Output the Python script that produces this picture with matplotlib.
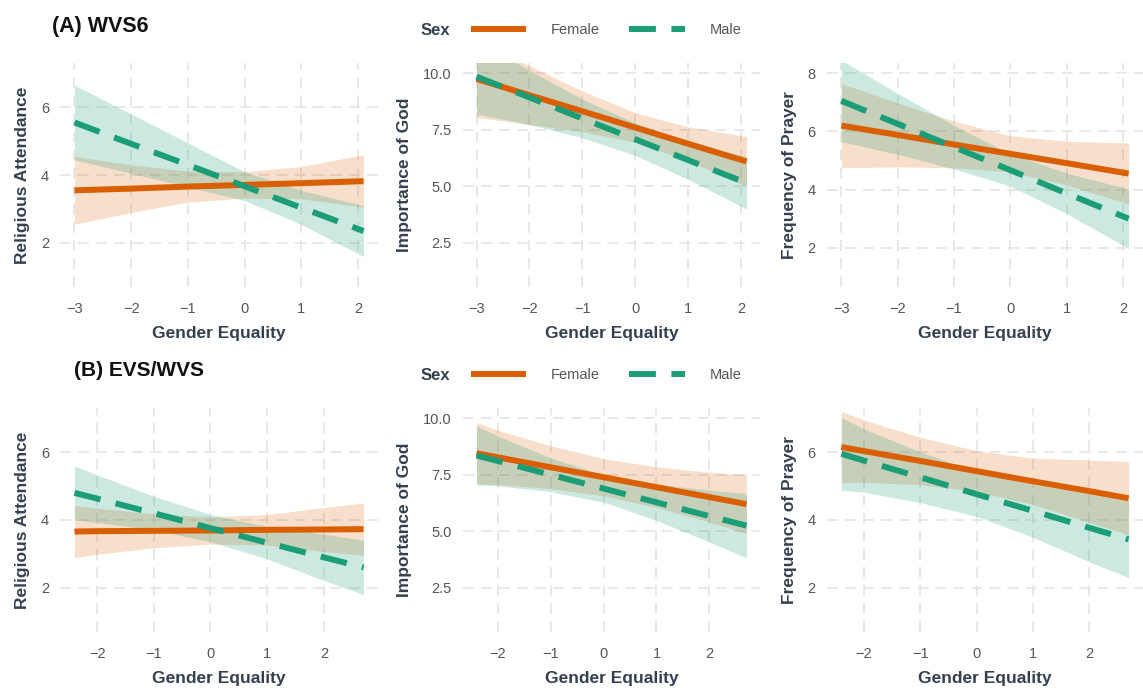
import numpy as np
import matplotlib
matplotlib.use("Agg")
import matplotlib.pyplot as plt
from matplotlib.lines import Line2D

plt.rcParams['font.family'] = ['Liberation Sans', 'DejaVu Sans']

ORANGE = '#D95F02'
GREEN = '#1B9E77'
TITLE_COL = '#34404F'
TICK_COL = '#555555'

# gender equality grid used for fitted lines and CI bands
x_a = [-3.0, -2.0, -1.0, 0.0, 1.0, 2.1]
x_b = [-2.4, -2.0, -1.0, 0.0, 1.0, 2.0, 2.7]

# (A) WVS6 -------------------------------------------------------------
att_a_f = [3.55, 3.60, 3.66, 3.71, 3.76, 3.82]
att_a_f_lo = [2.55, 2.90, 3.20, 3.32, 3.30, 3.05]
att_a_f_hi = [4.55, 4.30, 4.12, 4.10, 4.25, 4.60]
att_a_m = [5.55, 4.92, 4.30, 3.67, 3.04, 2.35]
att_a_m_lo = [4.45, 4.05, 3.65, 3.25, 2.55, 1.60]
att_a_m_hi = [6.65, 5.80, 4.95, 4.10, 3.55, 3.10]

god_a_f = [9.75, 9.03, 8.32, 7.60, 6.88, 6.10]
god_a_f_lo = [8.05, 7.73, 7.42, 6.95, 6.13, 5.00]
god_a_f_hi = [11.45, 10.33, 9.22, 8.25, 7.63, 7.20]
god_a_m = [9.85, 8.93, 8.00, 7.08, 6.16, 5.15]
god_a_m_lo = [8.20, 7.73, 7.15, 6.36, 5.31, 4.00]
god_a_m_hi = [11.50, 10.13, 8.85, 7.80, 7.01, 6.30]

pray_a_f = [6.20, 5.88, 5.55, 5.23, 4.91, 4.55]
pray_a_f_lo = [4.75, 4.78, 4.75, 4.61, 4.16, 3.50]
pray_a_f_hi = [7.65, 6.98, 6.35, 5.85, 5.66, 5.60]
pray_a_m = [7.05, 6.26, 5.46, 4.67, 3.87, 3.00]
pray_a_m_lo = [5.65, 5.21, 4.71, 4.12, 3.17, 1.98]
pray_a_m_hi = [8.45, 7.31, 6.21, 5.22, 4.57, 4.02]

# (B) EVS/WVS ----------------------------------------------------------
att_b_f = [3.66, 3.67, 3.68, 3.69, 3.71, 3.72, 3.73]
att_b_f_lo = [2.89, 2.99, 3.18, 3.29, 3.26, 3.07, 2.96]
att_b_f_hi = [4.43, 4.35, 4.18, 4.09, 4.16, 4.37, 4.50]
att_b_m = [4.80, 4.63, 4.20, 3.76, 3.33, 2.90, 2.60]
att_b_m_lo = [4.00, 3.93, 3.70, 3.36, 2.85, 2.22, 1.80]
att_b_m_hi = [5.60, 5.33, 4.70, 4.16, 3.81, 3.58, 3.40]

god_b_f = [8.45, 8.27, 7.83, 7.39, 6.95, 6.51, 6.20]
god_b_f_lo = [7.10, 7.07, 6.88, 6.57, 6.05, 5.41, 4.90]
god_b_f_hi = [9.80, 9.47, 8.78, 8.21, 7.85, 7.61, 7.50]
god_b_m = [8.35, 8.11, 7.50, 6.89, 6.28, 5.67, 5.25]
god_b_m_lo = [7.05, 7.01, 6.75, 6.29, 5.48, 4.52, 3.83]
god_b_m_hi = [9.65, 9.21, 8.25, 7.49, 7.08, 6.82, 6.67]

pray_b_f = [6.15, 6.03, 5.74, 5.44, 5.14, 4.85, 4.64]
pray_b_f_lo = [5.10, 5.11, 5.04, 4.84, 4.46, 3.93, 3.56]
pray_b_f_hi = [7.20, 6.95, 6.44, 6.04, 5.82, 5.77, 5.72]
pray_b_m = [5.95, 5.75, 5.26, 4.76, 4.27, 3.77, 3.43]
pray_b_m_lo = [4.88, 4.82, 4.51, 4.11, 3.49, 2.77, 2.30]
pray_b_m_hi = [7.02, 6.68, 6.01, 5.41, 5.05, 4.77, 4.56]

fig = plt.figure(figsize=(11.43, 6.9), dpi=100)

lefts = [0.0525, 0.4051, 0.7235]
widths = [0.2782, 0.2598, 0.2765]
bottoms = [0.584, 0.0841]
height = 0.3246

panels = [
    # row, col, x, female, f_lo, f_hi, male, m_lo, m_hi, ylabel, ylim, yticks, xticks
    (0, 0, x_a, att_a_f, att_a_f_lo, att_a_f_hi, att_a_m, att_a_m_lo, att_a_m_hi,
     'Religious Attendance', (0.7, 7.3), [2, 4, 6], [-3, -2, -1, 0, 1, 2]),
    (0, 1, x_a, god_a_f, god_a_f_lo, god_a_f_hi, god_a_m, god_a_m_lo, god_a_m_hi,
     'Importance of God', (0.55, 10.45), [2.5, 5.0, 7.5, 10.0], [-3, -2, -1, 0, 1, 2]),
    (0, 2, x_a, pray_a_f, pray_a_f_lo, pray_a_f_hi, pray_a_m, pray_a_m_lo, pray_a_m_hi,
     'Frequency of Prayer', (0.65, 8.35), [2, 4, 6, 8], [-3, -2, -1, 0, 1, 2]),
    (1, 0, x_b, att_b_f, att_b_f_lo, att_b_f_hi, att_b_m, att_b_m_lo, att_b_m_hi,
     'Religious Attendance', (0.7, 7.3), [2, 4, 6], [-2, -1, 0, 1, 2]),
    (1, 1, x_b, god_b_f, god_b_f_lo, god_b_f_hi, god_b_m, god_b_m_lo, god_b_m_hi,
     'Importance of God', (0.55, 10.45), [2.5, 5.0, 7.5, 10.0], [-2, -1, 0, 1, 2]),
    (1, 2, x_b, pray_b_f, pray_b_f_lo, pray_b_f_hi, pray_b_m, pray_b_m_lo, pray_b_m_hi,
     'Frequency of Prayer', (0.7, 7.3), [2, 4, 6], [-2, -1, 0, 1, 2]),
]

for (r, c, xs, f, flo, fhi, m, mlo, mhi, ylab, ylim, yt, xt) in panels:
    ax = fig.add_axes([lefts[c], bottoms[r], widths[c], height])
    ax.fill_between(xs, flo, fhi, color=ORANGE, alpha=0.2, lw=0)
    ax.fill_between(xs, mlo, mhi, color=GREEN, alpha=0.22, lw=0)
    ax.plot(xs, f, color=ORANGE, lw=4.3, solid_capstyle='butt')
    ax.plot(xs, m, color=GREEN, lw=4.3, dashes=(4.5, 2.6), dash_capstyle='butt')
    span = xs[-1] - xs[0]
    ax.set_xlim(xs[0] - 0.05 * span, xs[-1] + 0.05 * span)
    ax.set_ylim(*ylim)
    ax.set_yticks(yt)
    if c == 1:
        ax.set_yticklabels(['%.1f' % v for v in yt])
    ax.set_xticks(xt)
    ax.set_xticklabels([('\u2212%d' % -v) if v < 0 else str(v) for v in xt])
    for s in ax.spines.values():
        s.set_visible(False)
    ax.tick_params(length=0, labelsize=10.5, colors=TICK_COL, pad=8)
    ax.tick_params(axis='x', pad=11)
    ax.grid(True, color='#E6E6E6', lw=1.3, ls=(0, (6, 4)))
    ax.set_axisbelow(True)
    ax.set_ylabel(ylab, fontsize=12.5, fontweight='bold', color=TITLE_COL, labelpad=8)
    ax.set_xlabel('Gender Equality', fontsize=12.5, fontweight='bold', color=TITLE_COL, labelpad=7)

fig.text(0.0455, 0.962, '(A) WVS6', fontsize=15.5, fontweight='bold', color='#111111', va='center')
fig.text(0.0645, 0.4625, '(B) EVS/WVS', fontsize=15, fontweight='bold', color='#111111', va='center')

handles = [Line2D([], [], color=ORANGE, lw=4.3, solid_capstyle='butt'),
           Line2D([], [], color=GREEN, lw=4.3, dashes=(4.5, 2.6), dash_capstyle='butt')]
for yc in [0.9565, 0.4565]:
    fig.text(0.3675, yc, 'Sex', fontsize=12, fontweight='bold', color=TITLE_COL, va='center')
    fig.legend(handles, ['Female', 'Male'], loc='center left', bbox_to_anchor=(0.412, yc),
               ncol=2, frameon=False, fontsize=10.5, handlelength=3.8, handletextpad=1.7,
               columnspacing=2.0, borderpad=0, borderaxespad=0, labelcolor=TICK_COL)

fig.savefig('out.png', dpi=100)
